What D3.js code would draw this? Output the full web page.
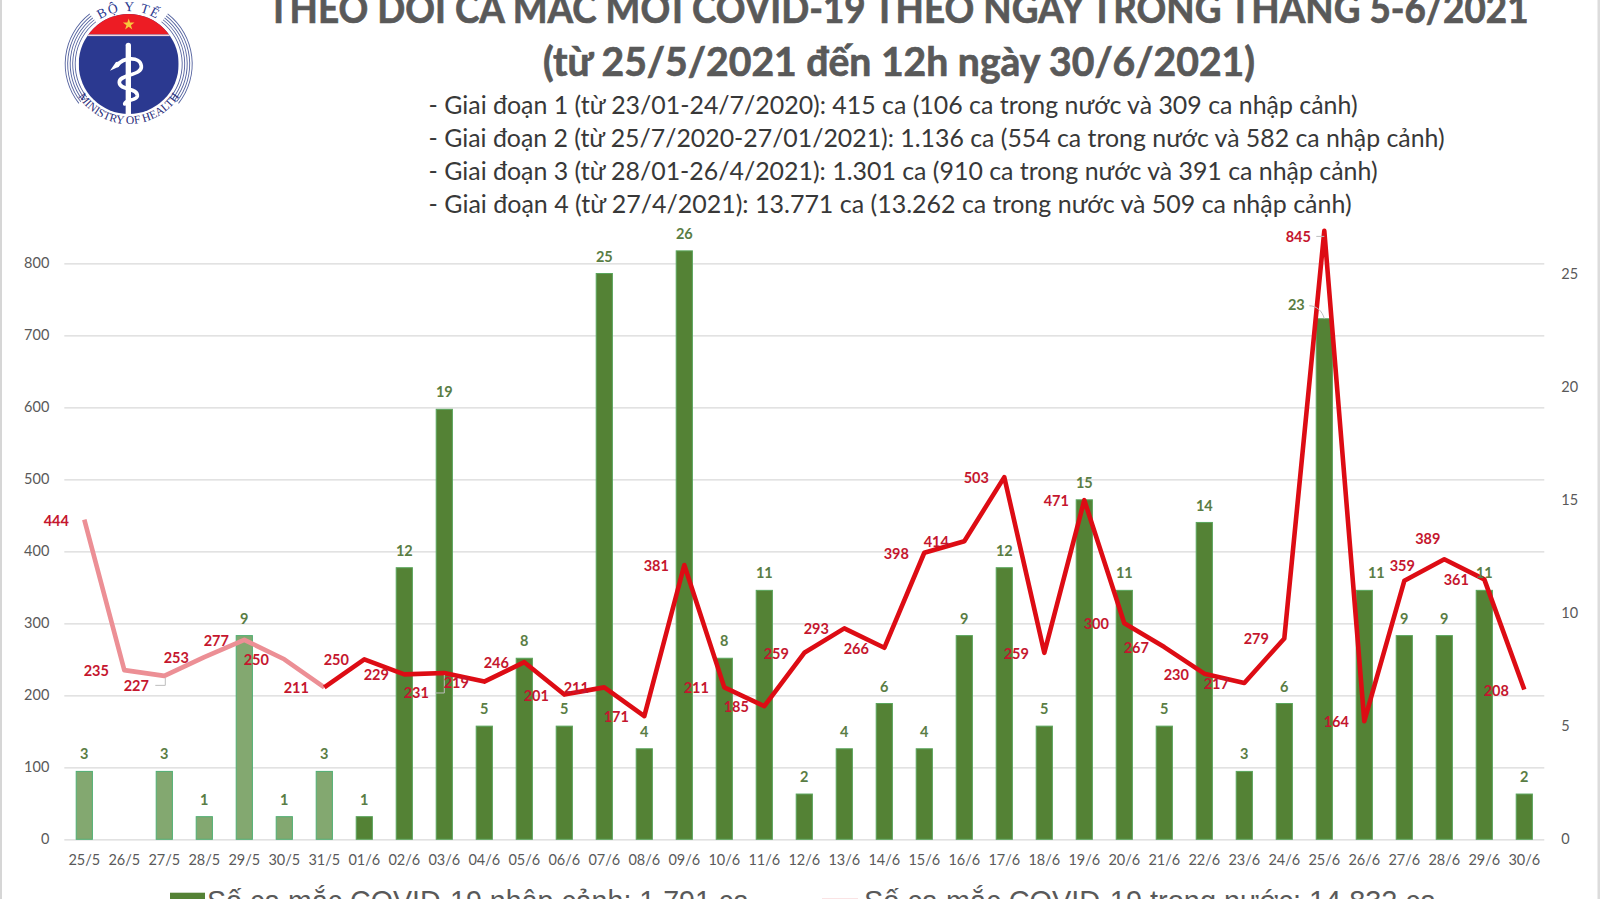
<!DOCTYPE html>
<html lang="vi">
<head>
<meta charset="utf-8">
<title>Theo dõi ca mắc mới COVID-19</title>
<script src="https://cdn.jsdelivr.net/npm/d3@7"></script>
<style>
  html, body { margin: 0; padding: 0; background: #fff; overflow: hidden; }
  svg { display: block; font-family: Lato, "Open Sans", sans-serif; }
  .tick text { fill: #595959; font-size: 14.5px; font-family: Lato, sans-serif; }
</style>
</head>
<body>
<svg id="chart" width="1600" height="899"></svg>
<script>
// 1. Data
const days = ["25/5", "26/5", "27/5", "28/5", "29/5", "30/5", "31/5", "01/6", "02/6", "03/6", "04/6", "05/6", "06/6",
  "07/6", "08/6", "09/6", "10/6", "11/6", "12/6", "13/6", "14/6", "15/6", "16/6", "17/6", "18/6", "19/6", "20/6",
  "21/6", "22/6", "23/6", "24/6", "25/6", "26/6", "27/6", "28/6", "29/6", "30/6"];
const importedCases = [3, 0, 3, 1, 9, 1, 3, 1, 12, 19, 5, 8, 5, 25, 4, 26, 8, 11, 2, 4, 6, 4, 9, 12, 5, 15, 11, 5, 14, 3, 6, 23, 11, 9, 9, 11, 2];
const localCases = [444, 235, 227, 253, 277, 250, 211, 250, 229, 231, 219, 246, 201, 211, 171, 381, 211, 185, 259, 293,
  266, 398, 414, 503, 259, 471, 300, 267, 230, 217, 279, 845, 164, 359, 389, 361, 208];
const leftTicks = [0, 100, 200, 300, 400, 500, 600, 700, 800];
const rightTicks = [0, 5, 10, 15, 20, 25];
const fadedDays = 7; // first week is washed out in the original

const titleLines = [
  { text: "THEO DÕI CA MẮC MỚI COVID-19 THEO NGÀY TRONG THÁNG 5-6/2021", x: 267.5, y: 23.3, w: 1261 },
  { text: "(từ 25/5/2021 đến 12h ngày 30/6/2021)", x: 543, y: 75.5, w: 712 }
];
const stageLines = [
  { text: "- Giai đoạn 1 (từ 23/01-24/7/2020): 415 ca (106 ca trong nước và 309 ca nhập cảnh)", y: 113.5, w: 929 },
  { text: "- Giai đoạn 2 (từ 25/7/2020-27/01/2021): 1.136 ca (554 ca trong nước và 582 ca nhập cảnh)", y: 146.5, w: 1016 },
  { text: "- Giai đoạn 3 (từ 28/01-26/4/2021): 1.301 ca (910 ca trong nước và 391 ca nhập cảnh)", y: 180, w: 949 },
  { text: "- Giai đoạn 4 (từ 27/4/2021): 13.771 ca (13.262 ca trong nước và 509 ca nhập cảnh)", y: 213, w: 923 }
];

// labels that do not sit in the default spot, by day
const localLabelShift = { "27/5": [-28, 10], "03/6": [-28, 20], "25/6": [-26, 6.5], "27/6": [-2, -15], "28/6": [-16.5, -20] };
const importedLabelShift = { "25/6": [-28, -14], "26/6": [12, -17] };

// 2. Scales
const svg = d3.select("#chart");
const x = d3.scaleBand().domain(days).range([64.3, 1544.3]).paddingInner(0.57).paddingOuter(0.285);
const yLeft = d3.scaleLinear().domain([0, 800]).range([839.3, 263.3]);
const yRight = d3.scaleLinear().domain([0, 25]).range([839.3, 273.5]);
const cx = d => x(d) + x.bandwidth() / 2;

// 3. Page frame
svg.append("rect").attr("x", 0).attr("y", 0).attr("width", 2).attr("height", 899).attr("fill", "#d6d6d6");
svg.append("rect").attr("x", 1597.5).attr("y", 0).attr("width", 2.5).attr("height", 899).attr("fill", "#dcdcdc");

// 4. Axes
svg.append("g")
  .attr("transform", "translate(64.3,0)")
  .call(d3.axisLeft(yLeft).tickValues(leftTicks).tickSize(-1480).tickPadding(15))
  .call(g => g.select(".domain").remove())
  .call(g => g.selectAll(".tick line").attr("stroke", "#d9d9d9").attr("stroke-width", 1.3));

svg.append("g")
  .attr("transform", "translate(1544.3,0)")
  .call(d3.axisRight(yRight).tickValues(rightTicks).tickSize(0).tickPadding(17))
  .call(g => g.select(".domain").remove());

svg.append("g")
  .attr("transform", "translate(0,839.3)")
  .call(d3.axisBottom(x).tickSize(0).tickPadding(15.5))
  .call(g => g.select(".domain").remove());

// 5. Bars
svg.append("g").selectAll("rect")
  .data(days.map((d, i) => ({ day: d, value: importedCases[i], faded: i < fadedDays })).filter(d => d.value > 0))
  .join("rect")
  .attr("x", d => x(d.day) + 0.5)
  .attr("y", d => yRight(d.value))
  .attr("width", x.bandwidth() - 1)
  .attr("height", d => yRight(0) - yRight(d.value))
  .attr("fill", d => d.faded ? "#83a870" : "#548235")
  .attr("stroke", d => d.faded ? "#4fae72" : "#5aa55c")
  .attr("stroke-width", 1);

// 6. Line, faded part first
const line = d3.line().x(d => cx(d.day)).y(d => yLeft(d.value));
const linePoints = days.map((d, i) => ({ day: d, value: localCases[i] }));
svg.append("path")
  .attr("d", line(linePoints.slice(0, fadedDays)))
  .attr("fill", "none").attr("stroke", "#ec8f95").attr("stroke-width", 4.6).attr("stroke-linejoin", "round");
svg.append("path")
  .attr("d", line(linePoints.slice(fadedDays - 1)))
  .attr("fill", "none").attr("stroke", "#dd0c14").attr("stroke-width", 4.6).attr("stroke-linejoin", "round");

// 7. Leader lines for the moved labels
const leaders = svg.append("g").attr("fill", "none").attr("stroke", "#bdbdbd").attr("stroke-width", 1);
const ptAt = (day, arr, scale) => [cx(day), scale(arr[days.indexOf(day)])];
let p = ptAt("27/5", localCases, yLeft);
leaders.append("path").attr("d", `M${p[0] - 9},${p[1] + 9.5}H${p[0] + 1}V${p[1] + 2}`);
p = ptAt("03/6", localCases, yLeft);
leaders.append("path").attr("d", `M${p[0] - 9},${p[1] + 20}H${p[0]}V${p[1] + 2}`);
p = ptAt("25/6", localCases, yLeft);
leaders.append("path").attr("d", `M${p[0] - 8},${p[1] + 5.5}H${p[0]}`);
p = ptAt("25/6", importedCases, yRight);
leaders.append("path").attr("d", `M${p[0] - 15},${p[1] - 13}C${p[0] - 8},${p[1] - 13} ${p[0] - 2},${p[1] - 8} ${p[0]},${p[1]}`);

// 8. Value labels
svg.append("g").selectAll("text")
  .data(days.map((d, i) => ({ day: d, value: importedCases[i] })).filter(d => d.value > 0))
  .join("text")
  .attr("x", d => cx(d.day) + (importedLabelShift[d.day] ? importedLabelShift[d.day][0] : 0))
  .attr("y", d => yRight(d.value) + (importedLabelShift[d.day] ? importedLabelShift[d.day][1] : -17))
  .attr("dy", "0.35em")
  .attr("text-anchor", "middle")
  .attr("font-size", 14.5)
  .attr("font-weight", 700)
  .attr("fill", "#5a7d44")
  .text(d => d.value);

svg.append("g").selectAll("text")
  .data(linePoints)
  .join("text")
  .attr("x", d => cx(d.day) + (localLabelShift[d.day] ? localLabelShift[d.day][0] : -28))
  .attr("y", d => yLeft(d.value) + (localLabelShift[d.day] ? localLabelShift[d.day][1] : 1))
  .attr("dy", "0.35em")
  .attr("text-anchor", "middle")
  .attr("font-size", 14.5)
  .attr("font-weight", 700)
  .attr("fill", "#c5162e")
  .text(d => d.value);

// 9. Title and stage notes
svg.append("g").selectAll("text")
  .data(titleLines)
  .join("text")
  .attr("x", d => d.x).attr("y", d => d.y)
  .attr("textLength", d => d.w).attr("lengthAdjust", "spacingAndGlyphs")
  .attr("font-size", 40).attr("font-weight", 700).attr("fill", "#595959")
  .attr("stroke", "#595959").attr("stroke-width", 0.7)
  .text(d => d.text);

svg.append("g").selectAll("text")
  .data(stageLines)
  .join("text")
  .attr("x", 428.6).attr("y", d => d.y)
  .attr("textLength", d => d.w).attr("lengthAdjust", "spacingAndGlyphs")
  .attr("font-size", 24.5).attr("fill", "#383838")
  .text(d => d.text);

// 10. Legend, cut off by the bottom edge of the picture
svg.append("rect").attr("x", 170).attr("y", 892.7).attr("width", 35).attr("height", 12).attr("fill", "#548235");
svg.append("text").attr("x", 207).attr("y", 910.5)
  .attr("textLength", 542).attr("lengthAdjust", "spacingAndGlyphs")
  .attr("font-family", "'Liberation Sans', Arial, sans-serif").attr("font-size", 29.5).attr("fill", "#595959")
  .text("Số ca mắc COVID-19 nhập cảnh: 1.791 ca");
svg.append("line").attr("x1", 822).attr("x2", 858).attr("y1", 901).attr("y2", 901)
  .attr("stroke", "#ec8f95").attr("stroke-width", 4.5);
svg.append("text").attr("x", 864).attr("y", 910.5)
  .attr("textLength", 572).attr("lengthAdjust", "spacingAndGlyphs")
  .attr("font-family", "'Liberation Sans', Arial, sans-serif").attr("font-size", 29.5).attr("fill", "#595959")
  .text("Số ca mắc COVID-19 trong nước: 14.832 ca");

// 11. Ministry logo
const logo = svg.append("g").attr("transform", "translate(128.7,64)");
const defs = svg.append("defs");
defs.append("clipPath").attr("id", "logo-clip").append("circle").attr("r", 50);
const disc = logo.append("g").attr("clip-path", "url(#logo-clip)");
disc.append("rect").attr("x", -50).attr("y", -50).attr("width", 100).attr("height", 100).attr("fill", "#2b3990");
disc.append("rect").attr("x", -50).attr("y", -50).attr("width", 100).attr("height", 20.5).attr("fill", "#ed1c24");
disc.append("rect").attr("x", -50).attr("y", -29.5).attr("width", 100).attr("height", 1.6).attr("fill", "#f2d7da");
logo.append("path")
  .attr("d", d3.symbol().type(d3.symbolStar).size(42)())
  .attr("transform", "translate(0,-39.5)")
  .attr("fill", "#f8c83c");

[53.5, 56, 58.5, 61, 63.5].forEach(r => {
  const arc = d3.arc().innerRadius(r - 0.45).outerRadius(r + 0.45);
  logo.append("path").attr("d", arc({ startAngle: -2.24, endAngle: -0.66 })).attr("fill", "#55639f");
  logo.append("path").attr("d", arc({ startAngle: 0.66, endAngle: 2.24 })).attr("fill", "#55639f");
});

const snake = logo.append("g").attr("transform", "translate(-68.7,-64) scale(0.3333)");
snake.append("path").attr("d", "M205,136V340").attr("stroke", "#fff").attr("stroke-width", 16).attr("stroke-linecap", "round").attr("fill", "none");
snake.append("path")
  .attr("d", "M172,196C190,172 240,168 244,198C248,228 176,222 178,248C180,272 234,262 232,288C230,304 196,296 194,312")
  .attr("stroke", "#fff").attr("stroke-width", 11).attr("fill", "none").attr("stroke-linecap", "round");
snake.append("path").attr("d", "M150,212L168,186L184,184L176,200Z").attr("fill", "#fff");

defs.append("path").attr("id", "logo-top").attr("d", "M-53,0A53,53 0 0 1 53,0");
defs.append("path").attr("id", "logo-bottom").attr("d", "M-60,0A60,60 0 0 0 60,0");
logo.append("text").attr("font-family", "'Liberation Serif', serif").attr("font-size", 13.5).attr("fill", "#2b3990")
  .attr("letter-spacing", 1.5).attr("text-anchor", "middle")
  .append("textPath").attr("href", "#logo-top").attr("startOffset", "50%").text("BỘ Y TẾ");
logo.append("text").attr("font-family", "'Liberation Serif', serif").attr("font-size", 11.5).attr("fill", "#1f2a78")
  .attr("text-anchor", "middle")
  .append("textPath").attr("href", "#logo-bottom").attr("startOffset", "50%").text("MINISTRY OF HEALTH");
</script>
</body>
</html>
